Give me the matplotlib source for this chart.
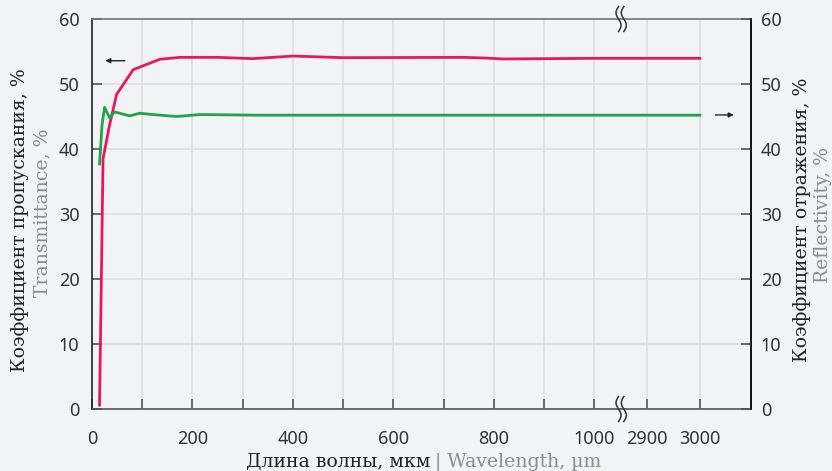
import matplotlib
matplotlib.use('Agg')
import matplotlib.pyplot as plt
import numpy as np

# ---- data ----
wl_trans = [15, 22, 35, 49, 82, 135, 175, 250, 320, 400, 500, 740, 780, 820, 1000, 2900, 3000]
transmittance = [0.6, 38.5, 43.7, 48.4, 52.2, 53.8, 54.1, 54.1, 53.9, 54.3, 54.05, 54.1, 54.0,
                 53.85, 53.95, 53.95, 53.95]

wl_refl = [15, 20, 25, 35, 45, 75, 95, 121, 168, 215, 334, 1000, 2900, 3000]
reflectivity = [37.7, 43.7, 46.4, 44.8, 45.7, 45.1, 45.5, 45.3, 45.0, 45.3, 45.2, 45.2, 45.2, 45.2]

x_ticks = [0, 100, 200, 300, 400, 500, 600, 700, 800, 900, 1000, 2900, 3000]
x_labels = ['0', '', '200', '', '400', '', '600', '', '800', '', '1000', '2900', '3000']
y_ticks = [0, 10, 20, 30, 40, 50, 60]

BG = '#f2f3f5'
RED = '#e8175d'
GREEN = '#22a24a'
GRAY_TXT = '#8c8c8c'
SERIF = ['DejaVu Serif']
SANS = ['Noto Sans', 'DejaVu Sans']
LAB_FS = 13.6

# broken x axis: 0..1050 linear, 2850..3100 shifted next to it
B0, B1 = 1050.0, 2850.0


def fwd(x):
    x = np.asarray(x, dtype=float)
    return np.where(x <= B0, x,
                    np.where(x >= B1, 1105 + (x - 2900) * 1.05, B0 + (x - B0) * 2.5 / 1800))


def inv(y):
    y = np.asarray(y, dtype=float)
    return np.where(y <= B0, y,
                    np.where(y >= B0 + 2.5, 2900 + (y - 1105) / 1.05, B0 + (y - B0) * 1800 / 2.5))


fig = plt.figure(figsize=(8.32, 4.71), dpi=100)
fig.patch.set_facecolor(BG)
ax = fig.add_axes([92 / 832, 1 - 409 / 471, 659 / 832, 390 / 471])
ax.set_facecolor(BG)
ax.set_xscale('function', functions=(fwd, inv))
ax.set_xlim(0, 3097)
ax.set_ylim(0, 60)

ax.set_xticks(x_ticks)
ax.set_xticklabels(x_labels)
ax.set_yticks(y_ticks)
ax.grid(True, color='#dcdcde', lw=1.1, zorder=0)
ax.set_axisbelow(True)

ax.tick_params(axis='x', direction='in', length=7.5, width=1.2, color='#555555',
               pad=15, labelsize=13, labelcolor='#333333')
ax.tick_params(axis='y', direction='in', length=7.5, width=1.2, color='#555555',
               pad=9, labelsize=13, labelcolor='#333333')
for lab in ax.get_xticklabels() + ax.get_yticklabels():
    lab.set_family(SANS)

ax.spines['left'].set_color('#222222')
ax.spines['bottom'].set_color('#555555')
ax.spines['top'].set_color('#777777')
for s in ax.spines.values():
    s.set_linewidth(1.2)

ax.plot(wl_trans, transmittance, color=RED, lw=2.0, zorder=3)

ax2 = ax.twinx()
ax2.set_ylim(0, 60)
ax2.set_yticks(y_ticks)
ax2.tick_params(axis='y', direction='in', length=7.5, width=1.2, color='#555555',
                pad=7, labelsize=13, labelcolor='#333333')
for lab in ax2.get_yticklabels():
    lab.set_family(SANS)
ax2.spines['right'].set_color('#111111')
ax2.spines['right'].set_linewidth(1.2)
for s in ['left', 'top', 'bottom']:
    ax2.spines[s].set_visible(False)
ax2.plot(wl_refl, reflectivity, color=GREEN, lw=2.0, zorder=3)

# arrows pointing to the matching axis
ax.annotate('', xy=(0.016, 0.893), xytext=(0.054, 0.893), xycoords='axes fraction',
            arrowprops=dict(arrowstyle='-|>', color='#222222', lw=1.0, mutation_scale=7))
ax.annotate('', xy=(0.978, 0.754), xytext=(0.942, 0.754), xycoords='axes fraction',
            arrowprops=dict(arrowstyle='-|>', color='#222222', lw=1.0, mutation_scale=7))

# axis break marks (S-shaped double strokes)
t = np.linspace(0, 1, 60)
for yb in (0.0, 1.0):
    for dx in (-0.004, 0.004):
        ax.plot(0.803 + dx - 0.0038 * np.sin(2 * np.pi * t),
                yb + 0.032 - 0.064 * t, color='#333333', lw=1.1,
                transform=ax.transAxes, clip_on=False, zorder=5)

# axis titles
fig.text(20 / 832, 1 - 220 / 471, 'Коэффициент пропускания, %', rotation=90,
         ha='center', va='center', fontsize=LAB_FS, family=SERIF, color='#222222')
fig.text(42 / 832, 1 - 213 / 471, 'Transmittance, %', rotation=90,
         ha='center', va='center', fontsize=LAB_FS, family=SERIF, color=GRAY_TXT)
fig.text(802 / 832, 1 - 220 / 471, 'Коэффициент отражения, %', rotation=90,
         ha='center', va='center', fontsize=LAB_FS, family=SERIF, color='#222222')
fig.text(823 / 832, 1 - 215 / 471, 'Reflectivity, %', rotation=90,
         ha='center', va='center', fontsize=LAB_FS, family=SERIF, color=GRAY_TXT)
fig.text(431 / 832, 1 - 462 / 471, 'Длина волны, мкм', ha='right', va='center',
         fontsize=LAB_FS, family=SERIF, color='#222222')
fig.text(435 / 832, 1 - 462 / 471, '| Wavelength, µm', ha='left', va='center',
         fontsize=LAB_FS, family=SERIF, color=GRAY_TXT)

fig.savefig('out.png', dpi=100, facecolor=BG)
